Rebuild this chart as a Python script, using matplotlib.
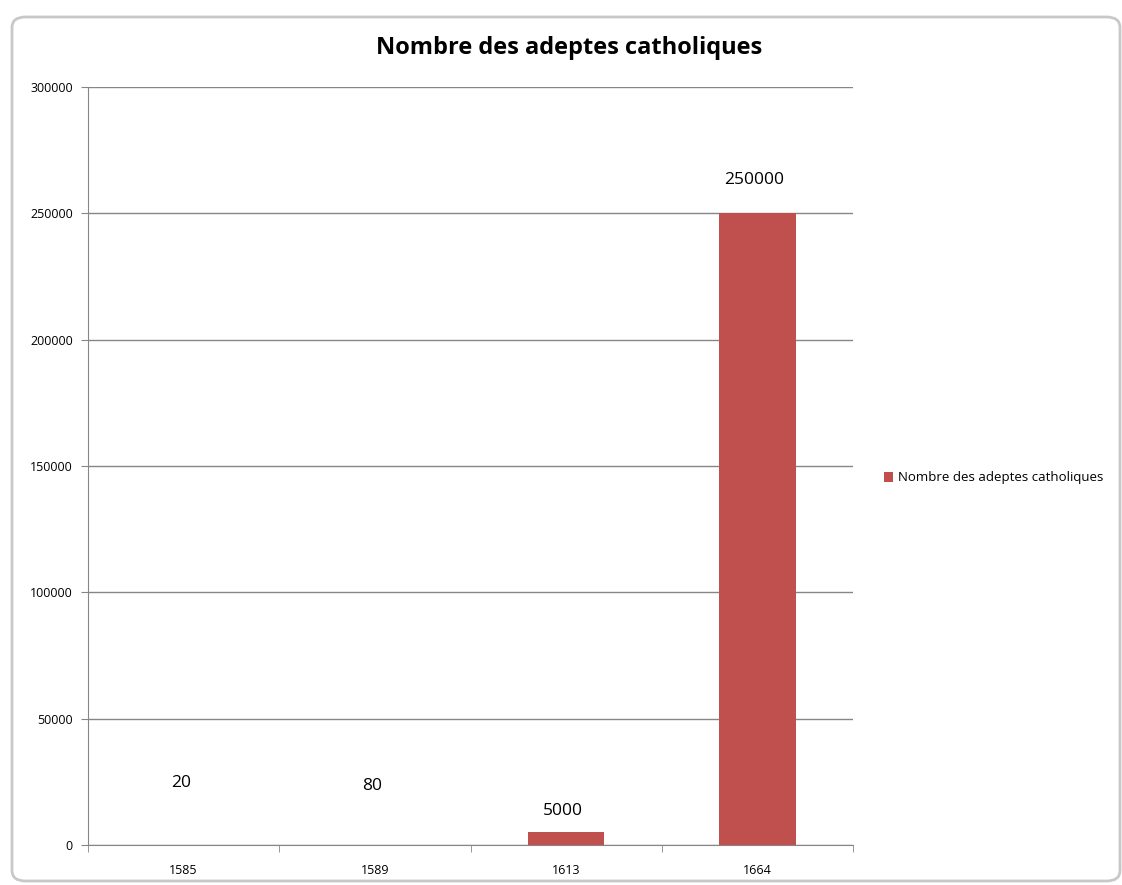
import numpy as np
import matplotlib.pyplot as plt
from matplotlib.patches import FancyBboxPatch

years = ['1585', '1589', '1613', '1664']
adeptes = [20, 80, 5000, 250000]
serie = 'Nombre des adeptes catholiques'
yticks = [0, 50000, 100000, 150000, 200000, 250000, 300000]

# décalage vertical des étiquettes (pixels), comme sur l'original
label_dy = [62, 59, 21, 33]

plt.rcParams['font.family'] = ['Open Sans', 'DejaVu Sans']

fig = plt.figure(figsize=(11.22, 8.85), dpi=100)
# cadre gris arrondi autour du graphique
cadre = FancyBboxPatch((12/1122, 4/885), 1108/1122, 864/885,
                       boxstyle='round,pad=0,rounding_size=0.012',
                       transform=fig.transFigure, facecolor='none',
                       edgecolor='#c8c8c8', linewidth=2, zorder=-1)
fig.patches.append(cadre)

ax = fig.add_axes([88/1122, 1 - 845/885, 765/1122, 758/885])
ax.patch.set_alpha(0)
x = np.arange(len(years))
bars = ax.bar(x, adeptes, width=0.4, color='#C0504D', label=serie, zorder=3)

for xi, v, dy in zip(x, adeptes, label_dy):
    ax.annotate(str(v), (xi, v), xytext=(-3, dy), textcoords='offset pixels',
                ha='center', va='center', fontsize=12.5, color='black')

ax.set_xlim(-0.5, len(years) - 0.5)
ax.set_ylim(0, 300000)
ax.set_yticks(yticks)
ax.set_yticklabels([str(t) for t in yticks], fontsize=9)
ax.set_xticks(x)
ax.set_xticklabels(years, fontsize=9)
ax.tick_params(axis='x', length=0, pad=14)
ax.set_xticks(np.arange(-0.5, len(years)), minor=True)
ax.tick_params(axis='x', which='minor', length=5, color='#868686')
ax.tick_params(axis='y', length=5, color='#868686', pad=6)
ax.yaxis.grid(True, color='#868686', linewidth=1)
ax.set_axisbelow(True)
for s in ['top', 'right']:
    ax.spines[s].set_visible(False)
ax.spines['left'].set_color('#868686')
ax.spines['bottom'].set_color('#868686')

fig.text(569/1122, 1 - 48/885, serie, ha='center', va='center',
         fontsize=17, fontweight='bold')

fig.legend(handles=[bars], labels=[serie], loc='center left',
           bbox_to_anchor=(872/1122, 1 - 478/885), frameon=False,
           fontsize=9.5, handlelength=0.7, handleheight=0.7, handletextpad=0.4)

fig.savefig('out.png', dpi=100)
